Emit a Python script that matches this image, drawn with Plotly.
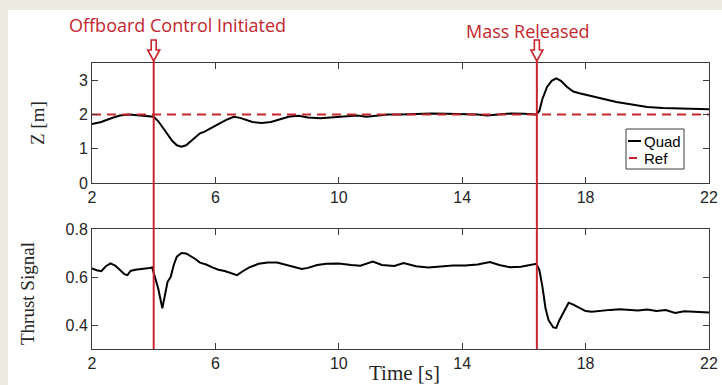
import plotly.graph_objects as go

# ---- data ----
t_z = [2.0, 2.3, 2.6, 2.9, 3.2, 3.5, 3.8, 4.0, 4.15, 4.3, 4.45, 4.6, 4.75, 4.9, 5.05, 5.2, 5.35, 5.5,
       5.65, 5.8, 6.0, 6.2, 6.4, 6.6, 6.8, 7.0, 7.2, 7.5, 7.8, 8.1, 8.4, 8.7, 9.0, 9.4, 9.8, 10.2,
       10.6, 10.9, 11.2, 11.6, 12.0, 12.5, 13.0, 13.5, 14.0, 14.5, 14.8, 15.2, 15.6, 16.0, 16.4,
       16.5, 16.6, 16.75, 16.9, 17.05, 17.2, 17.4, 17.6, 17.8, 18.1, 18.5, 19.0, 19.5, 20.0, 20.5,
       21.0, 21.5, 22.0]
z_quad = [1.72, 1.78, 1.88, 1.97, 2.0, 1.97, 1.95, 1.93, 1.80, 1.60, 1.40, 1.23, 1.10, 1.06, 1.10,
          1.22, 1.33, 1.45, 1.50, 1.58, 1.68, 1.77, 1.86, 1.93, 1.90, 1.84, 1.78, 1.75, 1.78, 1.86,
          1.94, 1.96, 1.91, 1.89, 1.92, 1.96, 1.97, 1.93, 1.96, 2.0, 2.0, 2.02, 2.03, 2.02, 2.01,
          2.0, 1.97, 2.0, 2.03, 2.02, 2.0, 2.1, 2.45, 2.8, 2.98, 3.05, 2.98, 2.80, 2.67, 2.62, 2.55,
          2.47, 2.36, 2.29, 2.22, 2.19, 2.18, 2.16, 2.15]
t_ref = [2, 22]
z_ref = [2, 2]

t_th = [2.0, 2.15, 2.3, 2.45, 2.6, 2.75, 2.9, 3.05, 3.15, 3.25, 3.4, 3.6, 3.8, 3.95, 4.05, 4.15,
        4.28, 4.38, 4.45, 4.55, 4.65, 4.75, 4.9, 5.05, 5.2, 5.35, 5.5, 5.7, 5.9, 6.1, 6.3, 6.5,
        6.7, 6.9, 7.1, 7.4, 7.7, 8.0, 8.3, 8.6, 8.8, 9.0, 9.3, 9.6, 10.0, 10.4, 10.7, 11.1, 11.4,
        11.8, 12.1, 12.5, 12.9, 13.3, 13.7, 14.1, 14.5, 14.9, 15.2, 15.55, 15.9, 16.2, 16.4, 16.5,
        16.6, 16.7, 16.8, 16.95, 17.05, 17.15, 17.3, 17.45, 17.6, 17.8, 18.0, 18.2, 18.5, 18.8,
        19.1, 19.4, 19.7, 20.0, 20.3, 20.6, 20.9, 21.2, 21.5, 21.8, 22.0]
thrust = [.636, .628, .624, .645, .657, .648, .630, .612, .608, .625, .630, .632, .636, .640, .600,
          .550, .470, .530, .580, .600, .650, .685, .700, .698, .688, .675, .660, .652, .640, .630,
          .625, .615, .608, .625, .640, .655, .660, .660, .650, .638, .633, .638, .650, .655, .656,
          .650, .647, .664, .650, .646, .658, .645, .640, .644, .648, .648, .652, .662, .650, .641,
          .643, .650, .655, .630, .560, .470, .420, .390, .388, .420, .460, .493, .485, .470, .458,
          .455, .460, .463, .466, .462, .460, .465, .458, .462, .450, .457, .455, .453, .452]

x_ticks = [2, 6, 10, 14, 18, 22]
z_ticks = [0, 1, 2, 3]
th_ticks = [0.4, 0.6, 0.8]
events = [4.0, 16.42]
event_labels = ["Offboard Control Initiated", "Mass Released"]

W, H = 722, 385
RED = "#c9252c"
TXTRED = "#c3262e"
AX = "#3c3c3c"

def px(x):
    return x / W

def py(y):
    return 1 - y / H

fig = go.Figure()
fig.add_trace(go.Scatter(x=t_z, y=z_quad, mode="lines", line=dict(color="black", width=2),
                         xaxis="x", yaxis="y", showlegend=False))
fig.add_trace(go.Scatter(x=t_ref, y=z_ref, mode="lines",
                         line=dict(color=RED, width=2, dash="9px,6px"),
                         xaxis="x", yaxis="y", showlegend=False))
fig.add_trace(go.Scatter(x=t_th, y=thrust, mode="lines", line=dict(color="black", width=2),
                         xaxis="x2", yaxis="y2", showlegend=False))

axstyle = dict(showline=True, linecolor=AX, linewidth=1, mirror="ticks", ticks="inside",
               ticklen=6, tickcolor=AX, showgrid=False, zeroline=False, automargin=False,
               tickfont=dict(family="Liberation Sans, Arial", size=16, color="#262626"))

fig.update_layout(
    width=W, height=H, margin=dict(l=0, r=0, t=0, b=0, pad=0), autosize=False,
    paper_bgcolor="#ecebe2", plot_bgcolor="white", showlegend=False,
    xaxis=dict(domain=[px(92), px(709)], range=[2, 22], tickvals=x_ticks, anchor="y", **axstyle),
    yaxis=dict(domain=[py(183), py(63)], range=[0, 3.5], tickvals=z_ticks, anchor="x", **axstyle),
    xaxis2=dict(domain=[px(92), px(709)], range=[2, 22], tickvals=x_ticks, anchor="y2", **axstyle),
    yaxis2=dict(domain=[py(349), py(229)], range=[0.3, 0.8], tickvals=th_ticks,
                tickformat=".1f", anchor="x2", **axstyle),
)

shapes = []
# white panel
shapes.append(dict(type="rect", xref="paper", yref="paper", x0=px(8), x1=1.0, y0=0, y1=py(10),
                   fillcolor="white", line=dict(width=0), layer="below"))
# event lines + hollow arrows
for ev in events:
    shapes.append(dict(type="line", xref="x", yref="paper", x0=ev, x1=ev, y0=py(61), y1=py(349),
                       line=dict(color=RED, width=2)))
    shapes.append(dict(type="path", xref="x", yref="paper", xsizemode="pixel", ysizemode="pixel",
                       xanchor=ev, yanchor=py(61),
                       path="M 0,0 L -6,11 L -2.5,11 L -2.5,21 L 2.5,21 L 2.5,11 L 6,11 Z",
                       fillcolor="white", line=dict(color=RED, width=1.6)))
# legend box
shapes.append(dict(type="rect", xref="paper", yref="paper", x0=px(626), x1=px(684),
                   y0=py(169), y1=py(129), fillcolor="white", line=dict(color=AX, width=1)))
shapes.append(dict(type="line", xref="paper", yref="paper", x0=px(628), x1=px(641),
                   y0=py(141), y1=py(141), line=dict(color="black", width=2)))
shapes.append(dict(type="line", xref="paper", yref="paper", x0=px(629), x1=px(637),
                   y0=py(158), y1=py(158), line=dict(color=RED, width=2)))

def txt(text, x, y, font, angle=0, xanchor="center"):
    return dict(text=text, x=px(x), y=py(y), xref="paper", yref="paper", xanchor=xanchor,
                yanchor="middle", textangle=angle, showarrow=False, font=font)

ann = [
    txt(event_labels[0], 177, 25, dict(family="Open Sans", size=18, color=TXTRED)),
    txt(event_labels[1], 528, 31, dict(family="Open Sans", size=18, color=TXTRED)),
    txt("Quad", 642, 141, dict(family="Liberation Sans, Arial", size=15, color="black"), xanchor="left"),
    txt("Ref", 642, 158, dict(family="Liberation Sans, Arial", size=15, color="black"), xanchor="left"),
    txt("Z [m]", 37, 123, dict(family="Liberation Serif", size=19, color="#262626"), angle=-90),
    txt("Thrust Signal", 27, 293, dict(family="Liberation Serif", size=19, color="#262626"), angle=-90),
    txt("Time [s]", 404, 373, dict(family="Liberation Serif", size=21, color="#262626")),
]

fig.update_layout(shapes=shapes, annotations=ann)
fig.write_html(
    "out.html",
    config={"displayModeBar": False, "responsive": False},
    post_script=("document.documentElement.style.overflow='hidden';"
                 "document.body.style.margin='0';document.body.style.padding='0';"
                 "document.body.style.overflow='hidden';"),
)
